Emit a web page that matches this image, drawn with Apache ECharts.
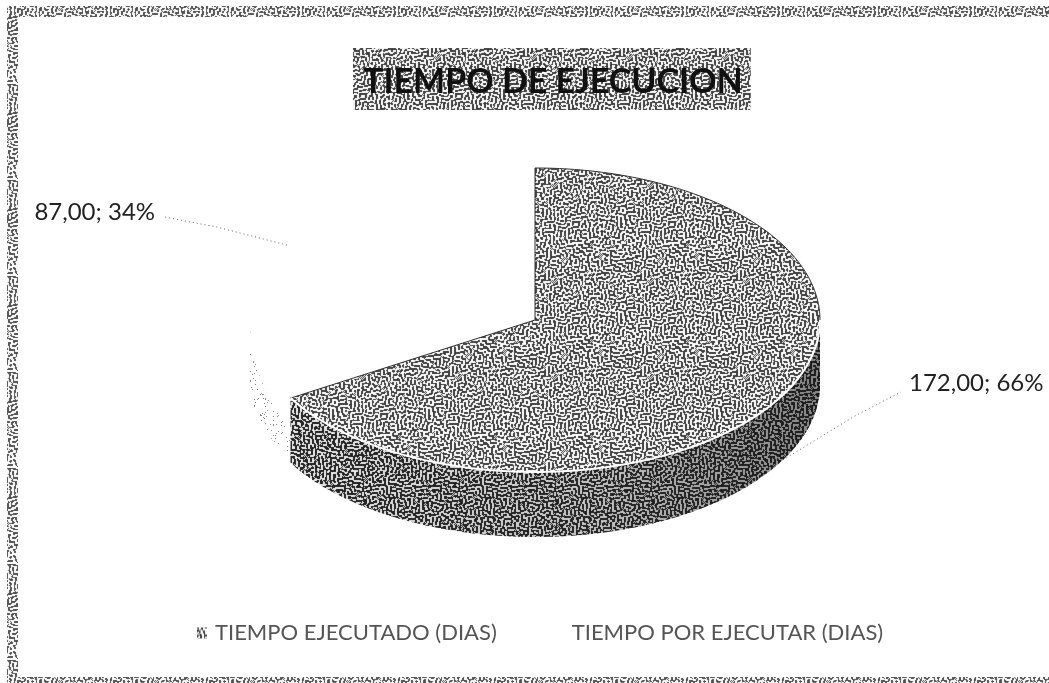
<!DOCTYPE html>
<html><head><meta charset="utf-8">
<style>html,body{margin:0;padding:0;background:#fff}#c{width:1049px;height:683px}</style>
<script src="https://cdn.jsdelivr.net/npm/echarts@6/dist/echarts.min.js"></script>
</head><body><div id="c"></div>
<script>
const chartTitle = 'TIEMPO DE EJECUCION';
const categories = ['TIEMPO EJECUTADO (DIAS)', 'TIEMPO POR EJECUTAR (DIAS)'];
const dias = [172, 87];
const porcentajes = [66, 34];

// deterministic labyrinth dither used as the scanned-halftone fill
function dither(size, black, ink, seed, soft) {
  let s = seed, w = size;
  const rnd = () => (s = (s * 1664525 + 1013904223) >>> 0) / 4294967296;
  let g = new Float32Array(w * w).map(() => rnd() - 0.5);
  for (let it = 0; it < 5; it++) {
    const n = new Float32Array(w * w);
    for (let y = 0; y < w; y++) for (let x = 0; x < w; x++) {
      let a = 0, b = 0;
      for (let dy = -2; dy <= 2; dy++) for (let dx = -2; dx <= 2; dx++) {
        const d = dx * dx + dy * dy, v = g[((y + dy + w) % w) * w + (x + dx + w) % w];
        if (d <= 1) a += v; else if (d <= 5) b += v;
      }
      n[y * w + x] = Math.tanh(a * 1.4 - b * 0.42);
    }
    g = n;
  }
  const sorted = Array.from(g).sort((p, q) => p - q);
  const th = sorted[Math.floor(black * sorted.length)];
  const bin = g.map(v => (v < th ? ink : 255));
  const c = document.createElement('canvas'); c.width = c.height = w;
  const ctx = c.getContext('2d'), im = ctx.createImageData(w, w);
  for (let y = 0; y < w; y++) for (let x = 0; x < w; x++) {
    const i = y * w + x;
    const avg = (bin[((y + 1) % w) * w + x] + bin[((y - 1 + w) % w) * w + x] + bin[y * w + (x + 1) % w] + bin[y * w + (x - 1 + w) % w]) / 4;
    const v = bin[i] * (1 - soft) + avg * soft;
    im.data[i * 4] = im.data[i * 4 + 1] = im.data[i * 4 + 2] = v; im.data[i * 4 + 3] = 255;
  }
  ctx.putImageData(im, 0, 0);
  return { image: c, repeat: 'repeat' };
}
function speckle(size, seed) {
  let s = seed;
  const rnd = () => (s = (s * 1664525 + 1013904223) >>> 0) / 4294967296;
  const c = document.createElement('canvas'); c.width = c.height = size;
  const ctx = c.getContext('2d'); ctx.fillStyle = '#888';
  for (let i = 0; i < size * size / 22; i++) ctx.fillRect(Math.floor(rnd() * size), Math.floor(rnd() * size), 1, 1);
  return { image: c, repeat: 'repeat' };
}
const topFill = dither(96, 0.48, 60, 7, 0.3);
const sideFill = dither(96, 0.56, 30, 31, 0.25);
const frameFill = dither(96, 0.45, 80, 99, 0.25);
const ghostFill = speckle(64, 5);

const C = { x: 535, y: 320, rx: 285, ry: 152, depth: 65 };
const total = dias.reduce((a, b) => a + b, 0);
const pt = (deg, off) => [C.x + C.rx * Math.sin(deg * Math.PI / 180), C.y - C.ry * Math.cos(deg * Math.PI / 180) + (off || 0)];
function arc(a, b, off) {
  const out = [], n = Math.max(2, Math.ceil(Math.abs(b - a)));
  for (let i = 0; i <= n; i++) {
    const t = i / n, o = typeof off === 'function' ? off(t) : off;
    out.push(pt(a + (b - a) * t, o));
  }
  return out;
}
function labelText(i) {
  return dias[i].toFixed(2).replace('.', ',') + '; ' + porcentajes[i] + '%';
}
// leader-line shape, relative to the slice's mid-angle anchor
const leaders = [
  { off: 65, mid: [72, -44], end: [118, -68], tx: 126, ty: -77, align: 'left' },
  { off: 0, mid: [-70, -18], end: [-122, -28], tx: -132, ty: -33, align: 'right' }
];

function sliceRender(i) {
  return function (params, api) {
    const val = api.value(0);
    let before = 0;
    for (let k = 0; k < i; k++) before += dias[k];
    const a0 = before / total * 360, a1 = (before + val) / total * 360, mid = (a0 + a1) / 2;
    const kids = [];
    if (i === 0) {
      const sideEnd = Math.min(a1, 270);
      const outline = arc(90, sideEnd, 0).concat(arc(sideEnd, 90, C.depth));
      kids.push({ type: 'polygon', silent: true, shape: { points: outline }, style: { fill: sideFill } });
      kids.push({ type: 'polygon', silent: true, shape: { points: outline }, style: { fill: {
        type: 'linear', x: 0, y: 0, x2: 1, y2: 0,
        colorStops: [{ offset: 0, color: 'rgba(60,60,60,0.1)' }, { offset: 0.55, color: 'rgba(40,40,40,0.25)' }, { offset: 1, color: 'rgba(20,20,20,0.5)' }]
      } } });
      kids.push({ type: 'polygon', silent: true, shape: { points: [[C.x, C.y]].concat(arc(a0, a1, 0)) }, style: { fill: topFill, stroke: '#333', lineWidth: 1 } });
      kids.push({ type: 'polyline', silent: true, shape: { points: arc(90, a1, 0) }, style: { fill: 'none', stroke: '#fff', lineWidth: 2 } });
    } else {
      const ghost = arc(a0, 270, t => 34 * (1 - t)).concat(arc(270, a0, C.depth - 4));
      kids.push({ type: 'polygon', silent: true, shape: { points: ghost }, style: { fill: ghostFill } });
    }
    const L = leaders[i], an = pt(mid, L.off);
    kids.push({ type: 'polyline', silent: true, shape: { points: [an, [an[0] + L.mid[0], an[1] + L.mid[1]], [an[0] + L.end[0], an[1] + L.end[1]]] },
      style: { fill: 'none', stroke: '#666', lineWidth: 1, lineDash: [1, 3] } });
    kids.push({ type: 'text', silent: true, style: { x: an[0] + L.tx, y: an[1] + L.ty, text: labelText(i), align: L.align, verticalAlign: 'middle', fill: '#222', font: '24px Lato' } });
    return { type: 'group', children: kids };
  };
}

const chart = echarts.init(document.getElementById('c'), null, { renderer: 'canvas' });
chart.setOption({
  animation: false,
  backgroundColor: '#fff',
  title: {
    text: chartTitle, left: 353, top: 48,
    backgroundColor: topFill,
    padding: [16, 8, 10, 10],
    textStyle: { fontFamily: 'Lato', fontSize: 34, fontWeight: 'bold', color: '#111', lineHeight: 36 }
  },
  legend: {
    left: 192, top: 617, itemWidth: 10, itemHeight: 11, itemGap: 57,
    data: categories.map((n, i) => ({ name: n, icon: 'rect', itemStyle: { color: i === 0 ? topFill : '#fff' } })),
    textStyle: { fontFamily: 'Lato', fontSize: 22, color: '#555', padding: [0, 0, 0, 3] }
  },
  graphic: [
    { type: 'rect', z: -1, silent: true, shape: { x: 7, y: 6, width: 1042, height: 11 }, style: { fill: frameFill } },
    { type: 'rect', z: -1, silent: true, shape: { x: 7, y: 6, width: 11, height: 677 }, style: { fill: frameFill } },
    { type: 'rect', z: -1, silent: true, shape: { x: 7, y: 677, width: 1042, height: 6 }, style: { fill: frameFill } }
  ],
  series: categories.map((name, i) => ({
    type: 'custom', name, coordinateSystem: 'none',
    itemStyle: { color: i === 0 ? '#777' : '#fff' },
    data: [[dias[i]]], renderItem: sliceRender(i)
  }))
});
</script></body></html>
